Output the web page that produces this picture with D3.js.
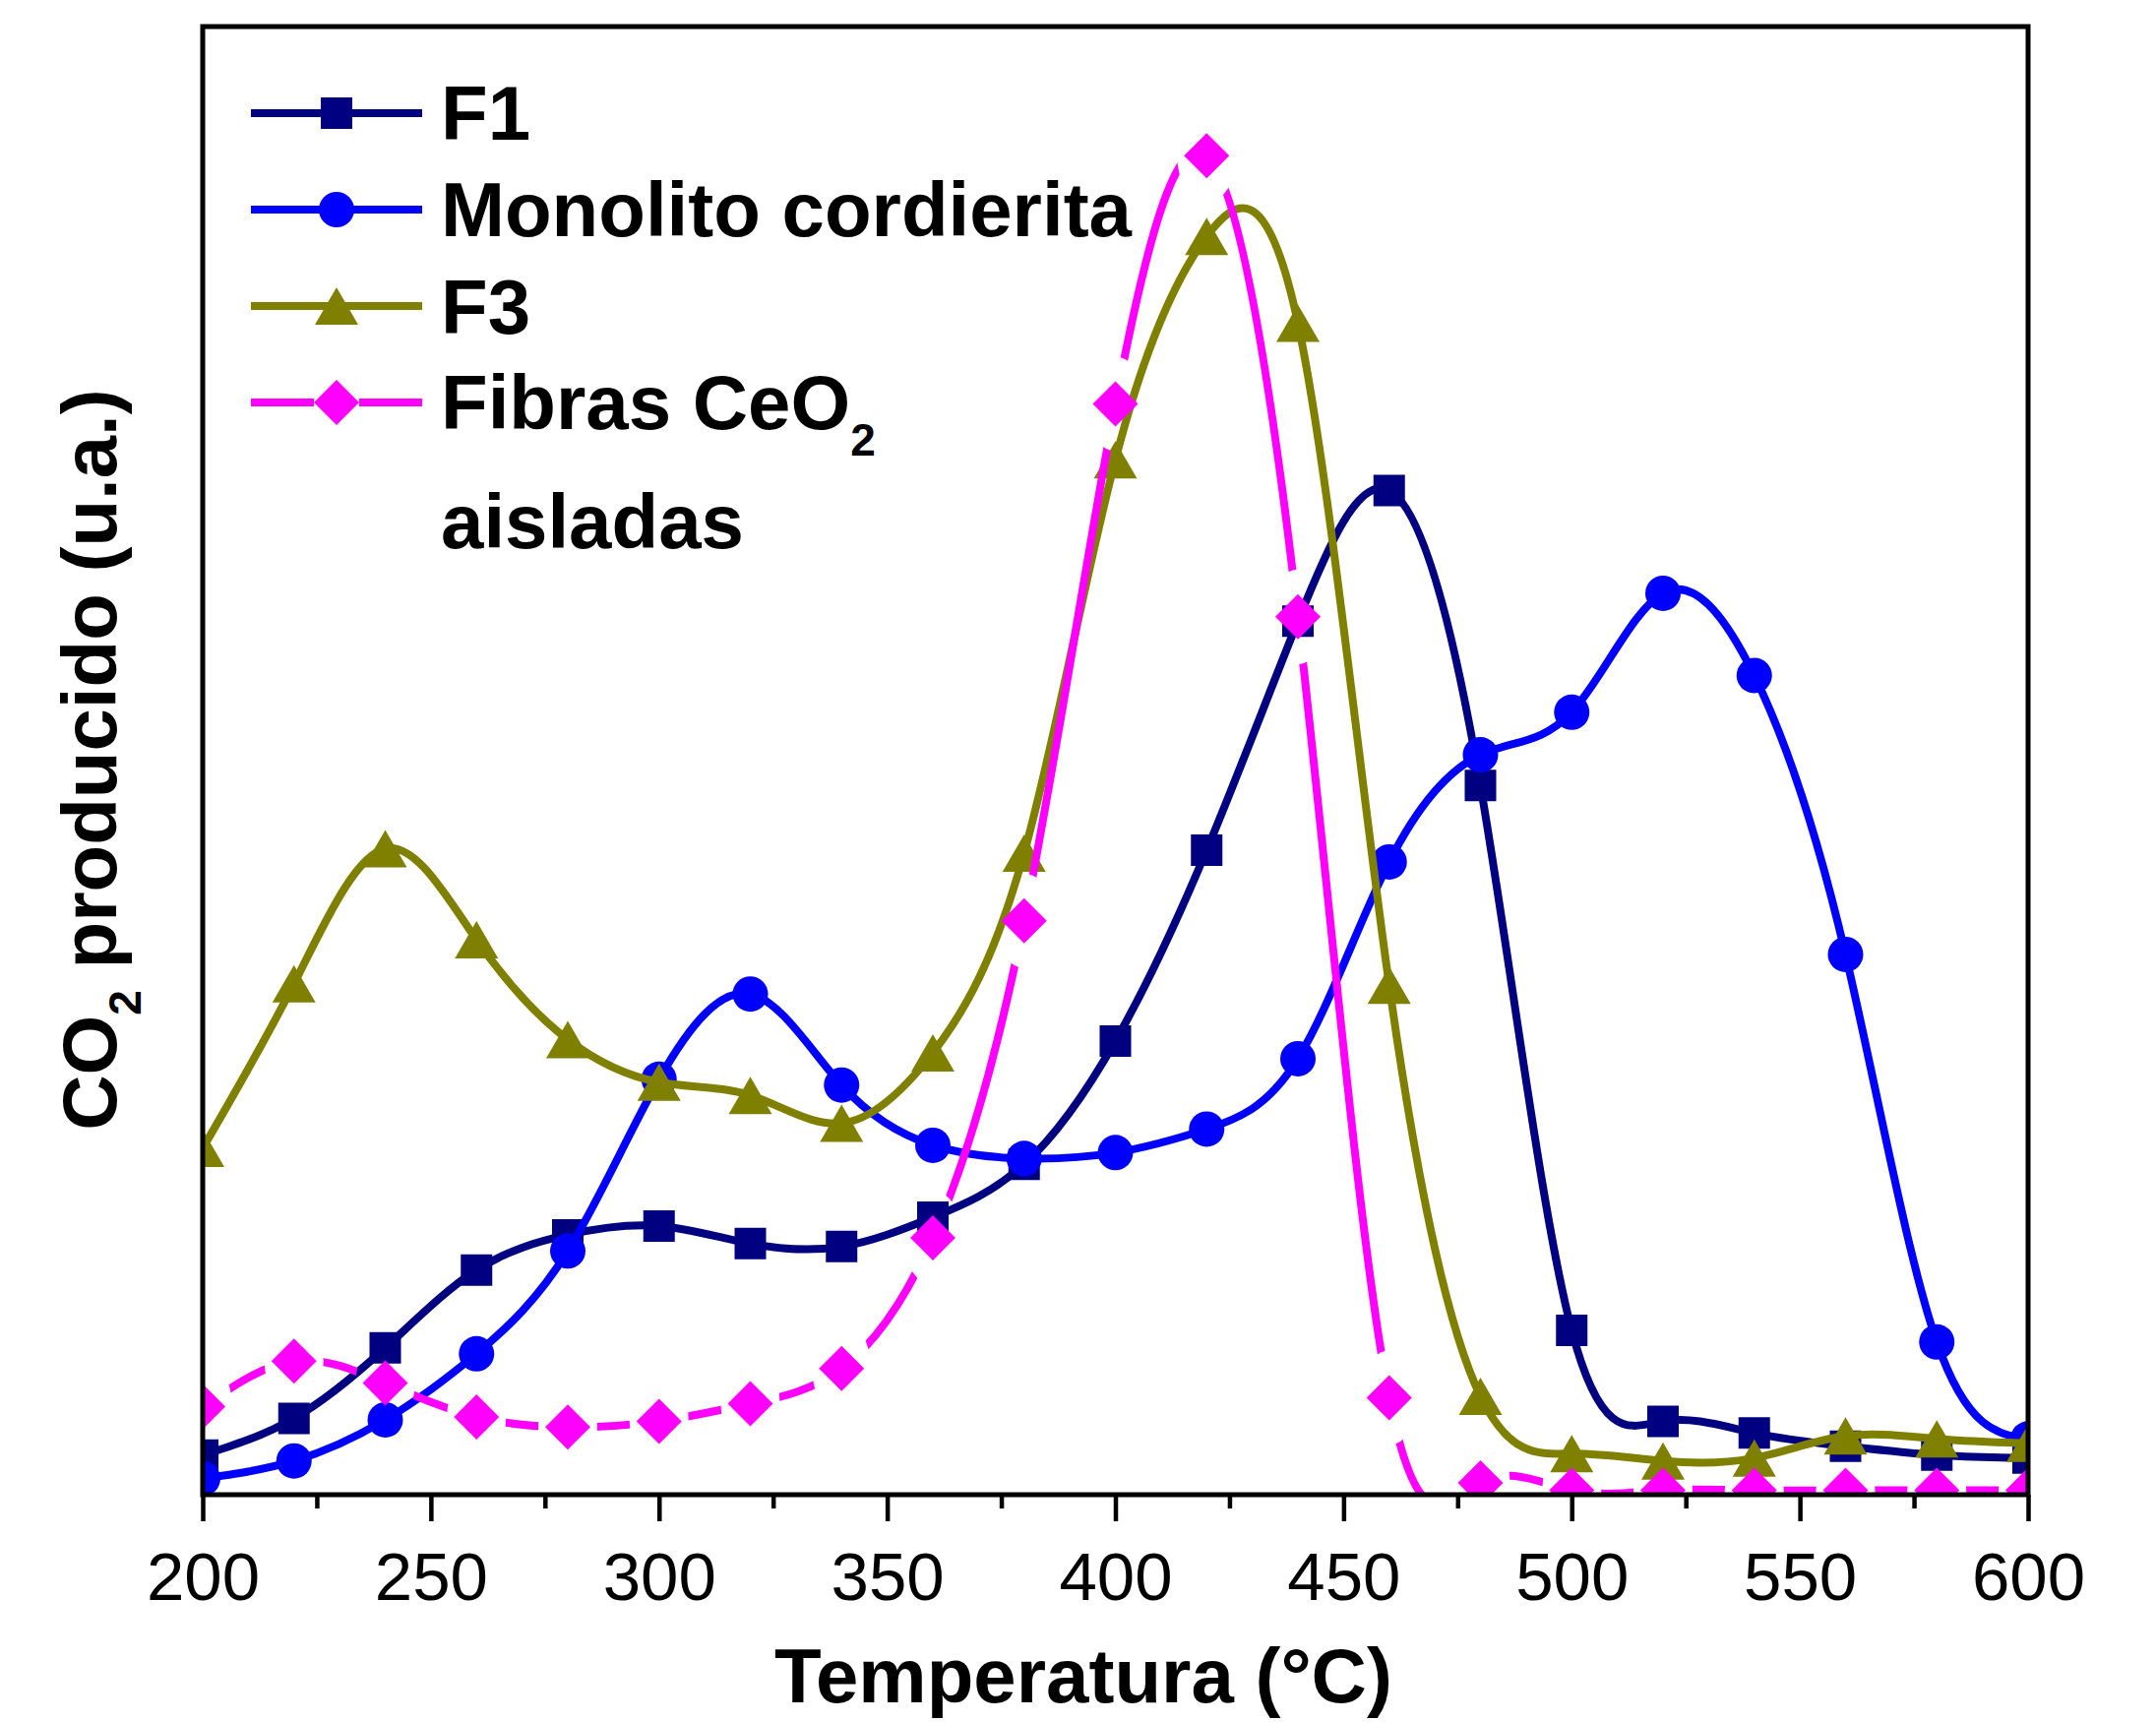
<!DOCTYPE html>
<html>
<head>
<meta charset="utf-8">
<script src="https://cdn.jsdelivr.net/npm/d3@7"></script>
<style>
  body { margin: 0; background: #fff; }
  text { font-family: "Liberation Sans", Arial, sans-serif; }
</style>
</head>
<body>
<svg id="chart" width="2191" height="1750"></svg>
<script>
// temperatures (°C) where each sample was measured
const temps = [200, 220, 240, 260, 280, 300, 320, 340, 360, 380, 400, 420, 440, 460, 480, 500, 520, 540, 560, 580, 600];

// CO2 produced, arbitrary units (0-100 of the y range)
const f1 = [2.7, 5.2, 10.0, 15.3, 17.7, 18.3, 17.1, 16.9, 18.9, 22.5, 30.9, 43.9, 59.5, 68.4, 48.3, 11.2, 5.0, 4.2, 3.3, 2.7, 2.5];
const monolito = [1.1, 2.3, 5.1, 9.6, 16.6, 28.3, 34.1, 27.9, 23.8, 22.9, 23.3, 24.9, 29.7, 43.1, 50.4, 53.3, 61.4, 55.8, 36.8, 10.4, 3.8];
const f3 = [23.6, 34.8, 44.0, 37.8, 31.0, 28.1, 27.2, 25.3, 30.1, 43.7, 70.5, 85.7, 79.8, 34.7, 6.7, 2.8, 2.3, 2.5, 4.0, 3.8, 3.5];
const fibras = [6.0, 9.1, 7.6, 5.3, 4.6, 5.0, 6.2, 8.6, 17.5, 39.1, 74.3, 91.2, 59.8, 6.6, 0.8, 0.3, 0.3, 0.3, 0.3, 0.3, 0.3];

const xTicks = [200, 250, 300, 350, 400, 450, 500, 550, 600];
const xMinorTicks = [225, 275, 325, 375, 425, 475, 525, 575];

const svg = d3.select("#chart");
const pLeft = 206, pRight = 2061, pTop = 27, pBottom = 1519;
const lw = 8;

const x = d3.scaleLinear().domain([200, 600]).range([pLeft, pRight]);
const y = d3.scaleLinear().domain([0, 100]).range([pBottom, pTop]);

// marker shapes
const sym = {
  square: "M-16,-16H16V16H-16Z",
  circle: d3.symbol(d3.symbolCircle, Math.PI * 18 * 18)(),
  triangle: "M0,-19L22,19L-22,19Z",
  diamond: "M0,-23L23,0L0,23L-23,0Z"
};

const series = [
  { name: "F1", values: f1, color: "#000080", shape: "square" },
  { name: "Monolito cordierita", values: monolito, color: "#0000ff", shape: "circle" },
  { name: "F3", values: f3, color: "#808000", shape: "triangle" },
  { name: "Fibras CeO2 aisladas", values: fibras, color: "#ff00ff", shape: "diamond", gaps: true }
];

const defs = svg.append("defs");
defs.append("clipPath").attr("id", "plotClip")
  .append("rect")
  .attr("x", pLeft).attr("y", pTop)
  .attr("width", pRight - pLeft).attr("height", pBottom - pTop);

// the dashed series leaves a gap round each of its markers
const mask = defs.append("mask").attr("id", "gapMask")
  .attr("maskUnits", "userSpaceOnUse")
  .attr("x", 0).attr("y", 0).attr("width", 2191).attr("height", 1750);
mask.append("rect").attr("width", 2191).attr("height", 1750).attr("fill", "#fff");
mask.selectAll("ellipse").data(temps).join("ellipse")
  .attr("cx", d => x(d))
  .attr("cy", (d, i) => y(fibras[i]))
  .attr("rx", 30).attr("ry", 48)
  .attr("fill", "#000");

const line = d3.line()
  .x((d, i) => x(temps[i]))
  .y(d => y(d))
  .curve(d3.curveNatural);

const plot = svg.append("g").attr("clip-path", "url(#plotClip)");

series.forEach(s => {
  const g = plot.append("g");
  const p = g.append("path")
    .attr("d", line(s.values))
    .attr("fill", "none")
    .attr("stroke", s.color)
    .attr("stroke-width", lw);
  if (s.gaps) p.attr("mask", "url(#gapMask)");
  g.selectAll("path.mk").data(s.values).join("path")
    .attr("class", "mk")
    .attr("d", sym[s.shape])
    .attr("transform", (d, i) => `translate(${x(temps[i])},${y(d)})`)
    .attr("fill", s.color);
});

// frame
svg.append("rect")
  .attr("x", pLeft).attr("y", pTop)
  .attr("width", pRight - pLeft).attr("height", pBottom - pTop)
  .attr("fill", "none").attr("stroke", "#000").attr("stroke-width", 5);

// x axis
const xAxis = svg.append("g")
  .attr("transform", `translate(0,${pBottom})`)
  .call(d3.axisBottom(x).tickValues(xTicks).tickSize(27).tickPadding(31).tickFormat(d3.format("d")));
xAxis.select(".domain").remove();
xAxis.selectAll(".tick line").attr("stroke-width", 4.5);
xAxis.selectAll(".tick text")
  .attr("font-size", 69)
  .attr("font-family", "'Liberation Sans', Arial, sans-serif")
  .attr("fill", "#000");

const xMinor = svg.append("g")
  .attr("transform", `translate(0,${pBottom})`)
  .call(d3.axisBottom(x).tickValues(xMinorTicks).tickSize(14).tickFormat(""));
xMinor.select(".domain").remove();
xMinor.selectAll(".tick line").attr("stroke-width", 4.5);

// axis titles
svg.append("text")
  .attr("x", 1101).attr("y", 1730)
  .attr("text-anchor", "middle")
  .attr("font-size", 78).attr("font-weight", "bold")
  .text("Temperatura (°C)");

const yt = svg.append("text")
  .attr("transform", "translate(118,772) rotate(-90)")
  .attr("text-anchor", "middle")
  .attr("font-size", 78).attr("font-weight", "bold");
yt.append("tspan").text("CO");
yt.append("tspan").attr("font-size", 46).attr("dy", 25).text("2");
yt.append("tspan").attr("dy", -25).text(" producido (u.a.)");

// legend
const legY = [115, 213, 311, 409];
const legText = [142, 240, 339, 436];
const leg = svg.append("g");
series.forEach((s, i) => {
  const g = leg.append("g");
  if (s.gaps) {
    g.append("line").attr("x1", 255).attr("x2", 319).attr("y1", legY[i]).attr("y2", legY[i])
      .attr("stroke", s.color).attr("stroke-width", lw);
    g.append("line").attr("x1", 365).attr("x2", 429).attr("y1", legY[i]).attr("y2", legY[i])
      .attr("stroke", s.color).attr("stroke-width", lw);
  } else {
    g.append("line").attr("x1", 255).attr("x2", 429).attr("y1", legY[i]).attr("y2", legY[i])
      .attr("stroke", s.color).attr("stroke-width", lw);
  }
  g.append("path").attr("d", sym[s.shape])
    .attr("transform", `translate(342,${legY[i]})`)
    .attr("fill", s.color);
});

const lt = (yy) => leg.append("text").attr("x", 448).attr("y", yy)
  .attr("font-size", 78).attr("font-weight", "bold");
lt(legText[0]).text("F1");
lt(legText[1]).text("Monolito cordierita");
lt(legText[2]).text("F3");
const fb = lt(legText[3]);
fb.append("tspan").text("Fibras CeO");
fb.append("tspan").attr("font-size", 46).attr("dy", 27).text("2");
lt(557).text("aisladas");
</script>
</body>
</html>
